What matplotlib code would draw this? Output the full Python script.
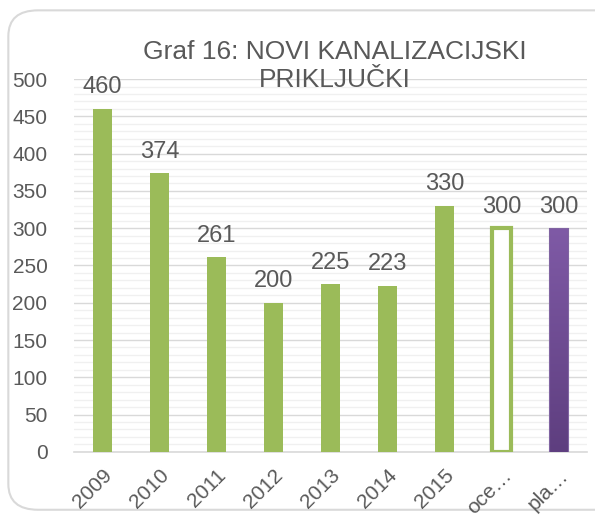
import matplotlib.pyplot as plt
import numpy as np
from matplotlib.patches import FancyBboxPatch
from matplotlib.colors import LinearSegmentedColormap

categories = ['2009', '2010', '2011', '2012', '2013', '2014', '2015', 'oce…', 'pla…']
values = [460, 374, 261, 200, 225, 223, 330, 300, 300]
styles = ['solid'] * 7 + ['outline', 'gradient']

green = '#9bbb59'
text_col = '#595959'
plt.rcParams['font.family'] = ['Liberation Sans', 'DejaVu Sans']

fig = plt.figure(figsize=(5.95, 5.17), dpi=100)
fig.patches.append(FancyBboxPatch((0.014, 0.014), 1.2, 0.966, boxstyle='round,pad=0,rounding_size=0.05',
                                  transform=fig.transFigure, fc='white', ec='#d9d9d9', lw=1.5, zorder=-1))
ax = fig.add_axes([0.124, 0.126, 0.863, 0.721])
ax.set_facecolor('none')

x = np.arange(len(categories))
w = 0.34
purple = LinearSegmentedColormap.from_list('p', ['#5e3e7f', '#7f5aa6'])
for xi, v, s in zip(x, values, styles):
    if s == 'solid':
        ax.bar(xi, v, w, color=green, zorder=3)
    elif s == 'outline':
        ax.bar(xi, v, w, color='white', edgecolor=green, linewidth=3, zorder=3)
    else:
        b = ax.bar(xi, v, w, color='none', edgecolor='#8064a2', linewidth=0.8, zorder=4)[0]
        grad = np.linspace(0, 1, 256).reshape(-1, 1)
        im = ax.imshow(grad, extent=[xi - w / 2, xi + w / 2, 0, v], aspect='auto',
                       cmap=purple, origin='lower', zorder=3)
        im.set_clip_path(b)
    ax.text(xi, v + 14, str(v), ha='center', va='bottom', fontsize=17, color=text_col, zorder=5)

ax.set_xlim(-0.5, len(categories) - 0.5)
ax.set_ylim(0, 500)
ax.set_yticks(range(0, 501, 50))
ax.set_yticks(range(0, 501, 10), minor=True)
ax.grid(axis='y', which='major', color='#d9d9d9', lw=1, zorder=0)
ax.grid(axis='y', which='minor', color='#f0f0f0', lw=1, zorder=0)
ax.set_xticks(x)
ax.set_xticklabels(categories, rotation=45, ha='right', rotation_mode='anchor')
ax.tick_params(axis='both', which='both', length=0, labelsize=15, colors=text_col)
ax.tick_params(axis='y', pad=19)
ax.tick_params(axis='x', pad=10)
for side in ['top', 'right', 'left']:
    ax.spines[side].set_visible(False)
ax.spines['bottom'].set_color('#d9d9d9')
ax.spines['bottom'].set_linewidth(1.2)

fig.text(0.563, 0.872, 'Graf 16: NOVI KANALIZACIJSKI\nPRIKLJUČKI', ha='center', va='center',
         fontsize=19, color=text_col, linespacing=1.2)

fig.savefig('out.png', dpi=100)
